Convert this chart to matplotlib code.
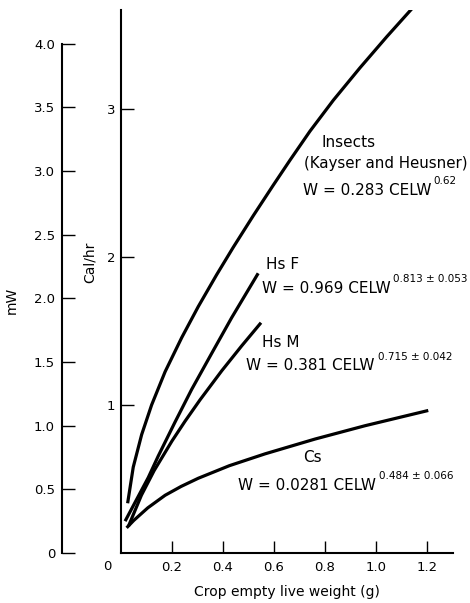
import matplotlib
matplotlib.use("Agg")
import matplotlib.pyplot as plt

# values (x in g, y in Cal/hr)
insects_x = [0.026, 0.048, 0.081, 0.120, 0.173, 0.238, 0.303, 0.375, 0.440, 0.519,
             0.597, 0.663, 0.741, 0.833, 0.937, 1.042, 1.142]
insects_y = [0.336, 0.580, 0.800, 1.000, 1.225, 1.455, 1.665, 1.880, 2.065, 2.280,
             2.485, 2.655, 2.850, 3.060, 3.278, 3.488, 3.680]

hsf_x = [0.016, 0.107, 0.146, 0.212, 0.277, 0.356, 0.434, 0.538]
hsf_y = [0.215, 0.510, 0.655, 0.885, 1.105, 1.350, 1.590, 1.890]

hsm_x = [0.029, 0.080, 0.130, 0.200, 0.251, 0.310, 0.395, 0.473, 0.549]
hsm_y = [0.180, 0.390, 0.557, 0.757, 0.890, 1.035, 1.231, 1.399, 1.556]

cs_x = [0.022, 0.050, 0.081, 0.105, 0.173, 0.236, 0.303, 0.425, 0.565, 0.761, 0.957, 1.205]
cs_y = [0.170, 0.220, 0.268, 0.305, 0.390, 0.450, 0.505, 0.590, 0.670, 0.770, 0.860, 0.963]

x_ticks = [0.2, 0.4, 0.6, 0.8, 1.0, 1.2]
x_labels = ["0.2", "0.4", "0.6", "0.8", "1.0", "1.2"]
cal_ticks = [1, 2, 3]
mw_ticks = [0, 0.5, 1.0, 1.5, 2.0, 2.5, 3.0, 3.5, 4.0]
mw_labels = ["0", "0.5", "1.0", "1.5", "2.0", "2.5", "3.0", "3.5", "4.0"]
MW_PER_CAL = 1.1622  # 1 cal/hr in mW

plt.rcParams["font.family"] = "DejaVu Sans"

W, H = 470, 603
fig = plt.figure(figsize=(W / 100, H / 100), dpi=100)

left, right, bottom, top = 121, 453, 553, 10
ax = fig.add_axes([left / W, (H - bottom) / H, (right - left) / W, (bottom - top) / H])
ymax = 3.669
ax.set_xlim(0, 1.302)
ax.set_ylim(0, ymax)

for xs, ys in [(insects_x, insects_y), (hsf_x, hsf_y), (hsm_x, hsm_y), (cs_x, cs_y)]:
    ax.plot(xs, ys, color="black", lw=2.3, solid_capstyle="butt", solid_joinstyle="round")

for s in ["top", "right"]:
    ax.spines[s].set_visible(False)
for s in ["left", "bottom"]:
    ax.spines[s].set_linewidth(1.5)

ax.set_xticks(x_ticks)
ax.set_xticklabels(x_labels)
ax.set_yticks(cal_ticks)
ax.tick_params(axis="both", direction="in", length=9, width=1.0, labelsize=9.5)
ax.tick_params(axis="x", pad=6)
ax.tick_params(axis="y", pad=4)

ax.annotate("0", xy=(0, 0), xytext=(-10, -10), textcoords="offset points",
            ha="center", va="center", fontsize=9.5)
ax.set_xlabel("Crop empty live weight (g)", fontsize=10, labelpad=8)
fig.text(90 / W, 1 - 262 / H, "Cal/hr", rotation=90, ha="center", va="center", fontsize=10)

# mW axis on the far left
ax2 = fig.add_axes([62 / W, (H - bottom) / H, 0.001, (bottom - top) / H])
ax2.set_ylim(0, ymax * MW_PER_CAL)
ax2.set_xticks([])
for s in ["top", "right", "bottom"]:
    ax2.spines[s].set_visible(False)
ax2.spines["left"].set_linewidth(1.5)
ax2.spines["left"].set_bounds(0, 4.0)
ax2.patch.set_visible(False)
ax2.set_yticks(mw_ticks)
ax2.set_yticklabels(mw_labels)
ax2.tick_params(axis="y", direction="in", length=9, width=1.0, labelsize=9.5, pad=5)
fig.text(12 / W, 1 - 300 / H, "mW", rotation=90, ha="center", va="center", fontsize=10)

# curve labels
fs = 11


def formula(x, y, base, sup):
    t = ax.text(x, y, base, fontsize=fs, va="baseline")
    ax.annotate(sup, xy=(1, 1), xycoords=t, xytext=(2, -2.5), textcoords="offset points",
                fontsize=7.5, va="bottom", ha="left")


ax.text(0.786, 2.745, "Insects", fontsize=fs, va="baseline")
ax.text(0.716, 2.600, "(Kayser and Heusner)", fontsize=10.8, va="baseline")
formula(0.712, 2.419, "W = 0.283 CELW", "0.62")
ax.text(0.567, 1.919, "Hs F", fontsize=fs, va="baseline")
formula(0.551, 1.757, "W = 0.969 CELW", "0.813 ± 0.053")
ax.text(0.551, 1.392, "Hs M", fontsize=fs, va="baseline")
formula(0.492, 1.236, "W = 0.381 CELW", "0.715 ± 0.042")
ax.text(0.714, 0.615, "Cs", fontsize=fs, va="baseline")
formula(0.459, 0.426, "W = 0.0281 CELW", "0.484 ± 0.066")

fig.savefig("out.png", dpi=100)
